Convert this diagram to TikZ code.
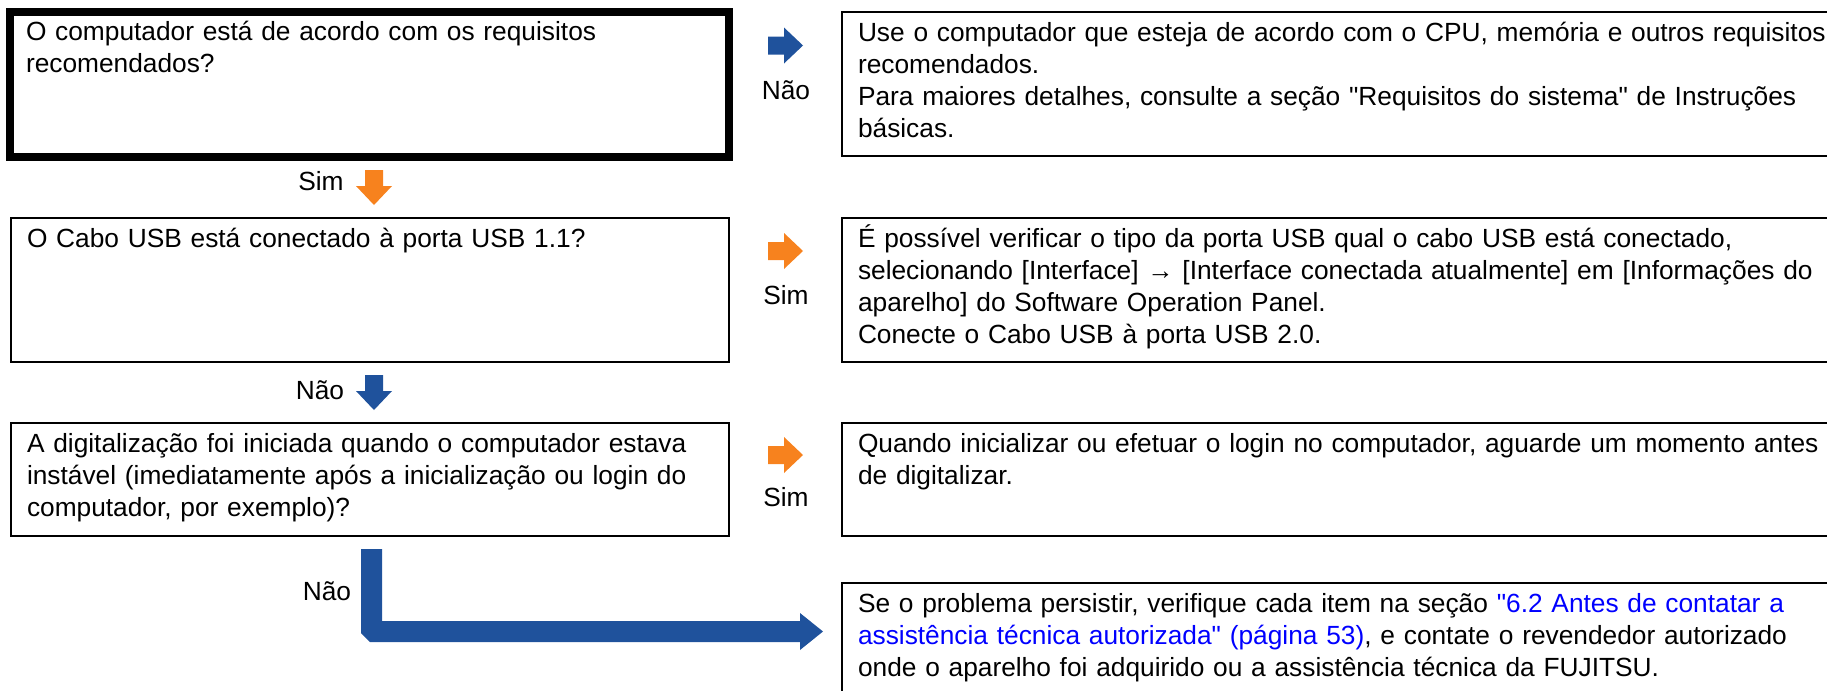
\documentclass[tikz,border=0pt]{standalone}
\usepackage{fontspec}
\setmainfont{Liberation Sans}[Ligatures=TeXOff]
\usepackage{xcolor}
\usetikzlibrary{calc}

\definecolor{arrblue}{RGB}{31,82,156}
\definecolor{arrorange}{RGB}{247,130,30}
\definecolor{linkblue}{RGB}{0,0,255}

\tikzset{
  box/.style={draw, line width=1.4pt, outer sep=0pt, anchor=north west,
    align=left, inner xsep=8pt, inner ysep=5pt, text height=9.5pt,
    font=\fontsize{13.15pt}{16pt}\selectfont},
  qbox/.style={box, text width=343pt},
  abox/.style={box, text width=504pt},
  tag/.style={inner sep=0pt, font=\fontsize{13.15pt}{16pt}\selectfont},
  blockarr/.pic={
    \fill (0,-9) -- (16,-9) -- (16,-18) -- (35,0) -- (16,18) -- (16,9) -- (0,9) -- cycle;
  }
}

\begin{document}
\begin{tikzpicture}[x=0.5pt, y=-0.5pt]
            \useasboundingbox (0,0) rectangle (1827,691);
            \clip (0,0) rectangle (1827,691);

            % questions
            \node[qbox, line width=4pt, text width=343.5pt, text depth=53pt] (q1) at (10,11.5)
              {O computador está de acordo com os requisitos\\recomendados?};
            \node[qbox, text depth=52.5pt] (q2) at (11,218)
              {O Cabo USB está conectado à porta USB 1.1?};
            \node[qbox, text depth=37pt] (q3) at (11,423)
              {A digitalização foi iniciada quando o computador estava\\instável (imediatamente após a inicialização ou login do\\computador, por exemplo)?};

            % answers
            \node[abox, text depth=52.5pt] (r1) at (842,12)
              {Use o computador que esteja de acordo com o CPU, memória e outros requisitos\\recomendados.\\Para maiores detalhes, consulte a seção "Requisitos do sistema" de Instruções\\básicas.};
            \node[abox, text depth=52.5pt] (r2) at (842,218)
              {É possível verificar o tipo da porta USB qual o cabo USB está conectado,\\selecionando [Interface] → [Interface conectada atualmente] em [Informações do\\aparelho] do Software Operation Panel.\\Conecte o Cabo USB à porta USB 2.0.};
            \node[abox, text depth=37pt] (r3) at (842,423)
              {Quando inicializar ou efetuar o login no computador, aguarde um momento antes\\de digitalizar.};
            \node[abox, text depth=35pt] (r4) at (842,583)
              {Se o problema persistir, verifique cada item na seção \textcolor{linkblue}{"6.2 Antes de contatar a}\\\textcolor{linkblue}{assistência técnica autorizada" (página 53)}, e contate o revendedor autorizado\\onde o aparelho foi adquirido ou a assistência técnica da FUJITSU.};

            % side arrows
            \pic[color=arrblue] at (768,45.5) {blockarr};
            \pic[color=arrorange] at (768,251) {blockarr};
            \pic[color=arrorange] at (768,455) {blockarr};
            \node[tag] (n1) at (786,90) {Não};
            \node[tag] (s2) at (786,295) {Sim};
            \node[tag] (s3) at (786,497) {Sim};

            % down arrows
            \pic[color=arrorange, rotate=-90] at (374,170) {blockarr};
            \pic[color=arrblue, rotate=-90] at (374,375) {blockarr};
            \node[tag] (s1) at (321,181) {Sim};
            \node[tag] (n2) at (320,390) {Não};

            % last step
            \fill[arrblue] (361,549) -- (382,549) -- (382,621) -- (800,621) -- (800,613)
              -- (823,631.5) -- (800,650) -- (800,642) -- (370,642) -- (361,633) -- cycle;
            \node[tag] (n3) at (327,591) {Não};
        \end{tikzpicture}
\end{document}
